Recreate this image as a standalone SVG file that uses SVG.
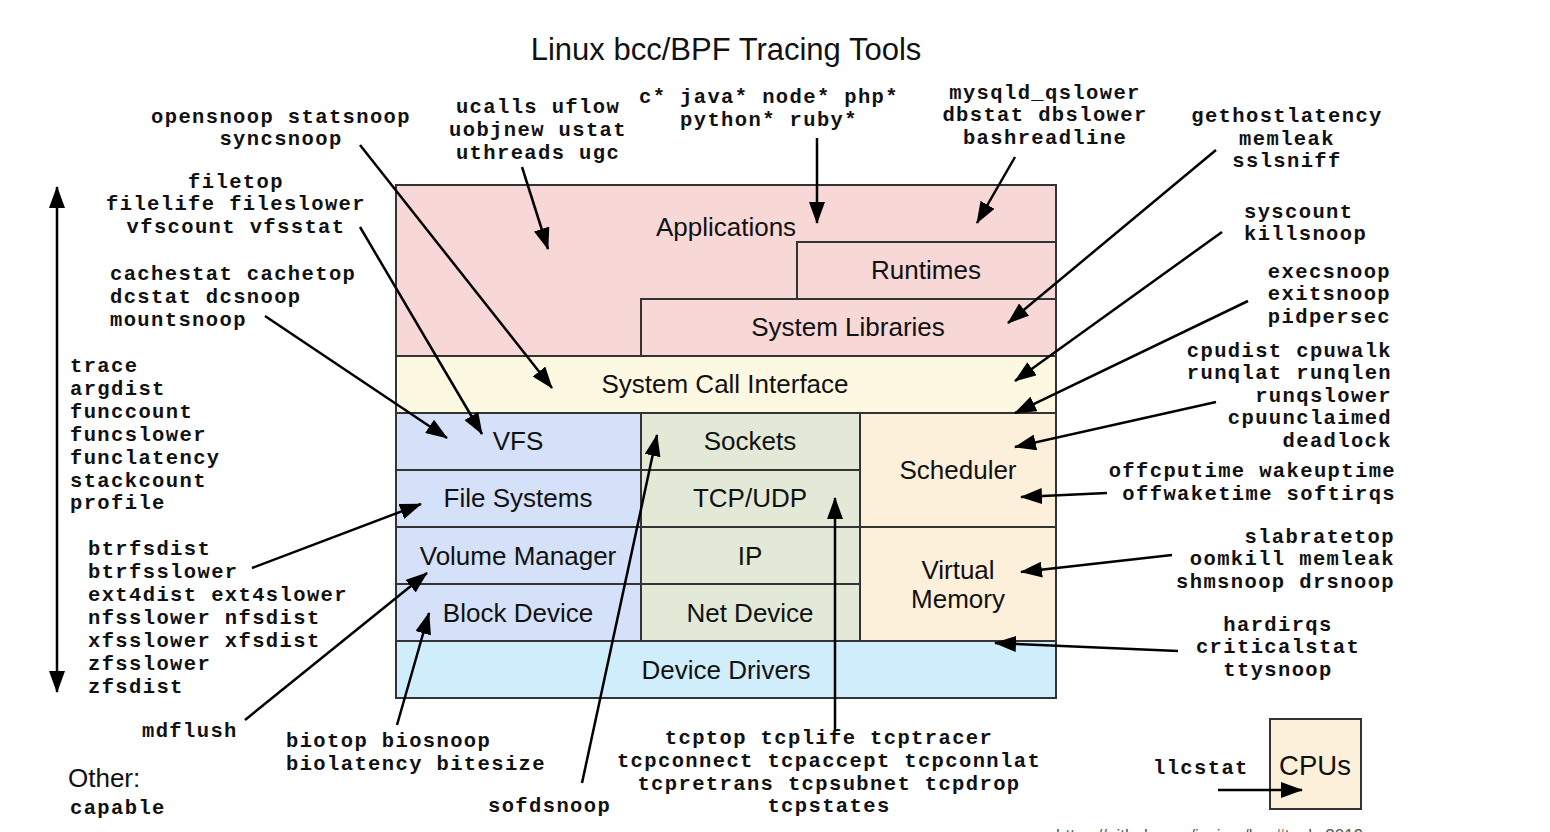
<svg xmlns="http://www.w3.org/2000/svg" width="1550" height="832" viewBox="0 0 1550 832">
<style>
.m{font-family:"Liberation Mono","DejaVu Sans Mono",monospace;font-weight:bold;font-size:20.5px;letter-spacing:1.38px;fill:#111}
.s{font-family:"Liberation Sans",Arial,sans-serif;font-size:26px;fill:#111}
.b{stroke:#333;stroke-width:2}
.c{text-anchor:middle}
.r{text-anchor:end}
.ln{stroke:#000;stroke-width:2.5;fill:none;marker-end:url(#ah)}
</style>
<defs>
<marker id="ah" viewBox="0 0 22 16" refX="21" refY="8" markerWidth="22" markerHeight="16" markerUnits="userSpaceOnUse" orient="auto-start-reverse"><path d="M0,0 L22,8 L0,16 z" fill="#000"/></marker>
</defs>
<rect width="1550" height="832" fill="#fff"/>
<text class="s c" x="726" y="60" style="font-size:31px">Linux bcc/BPF Tracing Tools</text>

<g id="applications"><rect class="b" x="396" y="185" width="660" height="171" fill="#f8d7d7"/><text class="s c" x="726" y="236">Applications</text></g>
<g id="runtimes"><rect class="b" x="797" y="242" width="259" height="57" fill="#f8d7d7"/><text class="s c" x="926" y="279">Runtimes</text></g>
<g id="system-libraries"><rect class="b" x="641" y="299" width="415" height="57" fill="#f8d7d7"/><text class="s c" x="848" y="336">System Libraries</text></g>
<g id="syscall"><rect class="b" x="396" y="356" width="660" height="57" fill="#fdf8e1"/><text class="s c" x="725" y="393">System Call Interface</text></g>
<g id="vfs"><rect class="b" x="396" y="413" width="245" height="57" fill="#d5e1f8"/><text class="s c" x="518" y="450">VFS</text></g>
<g id="file-systems"><rect class="b" x="396" y="470" width="245" height="57" fill="#d5e1f8"/><text class="s c" x="518" y="507">File Systems</text></g>
<g id="volume-manager"><rect class="b" x="396" y="527" width="245" height="57" fill="#d5e1f8"/><text class="s c" x="518" y="565">Volume Manager</text></g>
<g id="block-device"><rect class="b" x="396" y="584" width="245" height="57" fill="#d5e1f8"/><text class="s c" x="518" y="622">Block Device</text></g>
<g id="sockets"><rect class="b" x="641" y="413" width="219" height="57" fill="#e2ead7"/><text class="s c" x="750" y="450">Sockets</text></g>
<g id="tcp-udp"><rect class="b" x="641" y="470" width="219" height="57" fill="#e2ead7"/><text class="s c" x="750" y="507">TCP/UDP</text></g>
<g id="ip"><rect class="b" x="641" y="527" width="219" height="57" fill="#e2ead7"/><text class="s c" x="750" y="565">IP</text></g>
<g id="net-device"><rect class="b" x="641" y="584" width="219" height="57" fill="#e2ead7"/><text class="s c" x="750" y="622">Net Device</text></g>
<g id="scheduler"><rect class="b" x="860" y="413" width="196" height="114" fill="#fdf0da"/><text class="s c" x="958" y="479">Scheduler</text></g>
<g id="virtual-memory"><rect class="b" x="860" y="527" width="196" height="114" fill="#fdf0da"/><text class="s c" x="958" y="579">Virtual</text><text class="s c" x="958" y="608">Memory</text></g>
<g id="device-drivers"><rect class="b" x="396" y="641" width="660" height="57" fill="#d0edfb"/><text class="s c" x="726" y="679">Device Drivers</text></g>
<g id="cpus"><rect class="b" x="1270" y="719" width="91" height="90" fill="#fdf0da"/><text class="s c" x="1315" y="775" style="font-size:27.5px">CPUs</text></g>

<g id="connectors">
<line class="ln" x1="360" y1="145" x2="552" y2="388"/>
<line class="ln" x1="522" y1="167" x2="548" y2="249"/>
<line class="ln" x1="817" y1="138" x2="817" y2="223"/>
<line class="ln" x1="1015" y1="157" x2="977" y2="223"/>
<line class="ln" x1="1216" y1="150" x2="1008" y2="323"/>
<line class="ln" x1="1222" y1="232" x2="1015" y2="381"/>
<line class="ln" x1="1248" y1="301" x2="1015" y2="413"/>
<line class="ln" x1="1216" y1="402" x2="1015" y2="447"/>
<line class="ln" x1="1107" y1="493" x2="1021" y2="497"/>
<line class="ln" x1="1172" y1="555" x2="1021" y2="572"/>
<line class="ln" x1="1178" y1="651" x2="995" y2="643"/>
<line class="ln" x1="360" y1="227" x2="482" y2="434"/>
<line class="ln" x1="265" y1="316" x2="447" y2="438"/>
<line class="ln" x1="252" y1="568" x2="421" y2="504"/>
<line class="ln" x1="245" y1="720" x2="427" y2="573"/>
<line class="ln" x1="397" y1="725" x2="429" y2="613"/>
<line class="ln" x1="582" y1="783" x2="657" y2="435"/>
<line class="ln" x1="835" y1="730" x2="835" y2="498"/>
<line class="ln" x1="1218" y1="790" x2="1302" y2="790"/>
<line class="ln" x1="57" y1="187" x2="57" y2="692" style="marker-start:url(#ah)"/>
</g>

<g id="labels">
<text class="m c" x="281" y="123">opensnoop statsnoop</text>
<text class="m c" x="281" y="145">syncsnoop</text>
<text class="m c" x="538" y="113">ucalls uflow</text>
<text class="m c" x="538" y="136">uobjnew ustat</text>
<text class="m c" x="538" y="159">uthreads ugc</text>
<text class="m c" x="769" y="103">c* java* node* php*</text>
<text class="m c" x="769" y="126">python* ruby*</text>
<text class="m c" x="1045" y="99">mysqld_qslower</text>
<text class="m c" x="1045" y="121">dbstat dbslower</text>
<text class="m c" x="1045" y="144">bashreadline</text>
<text class="m c" x="1287" y="122">gethostlatency</text>
<text class="m c" x="1287" y="145">memleak</text>
<text class="m c" x="1287" y="167">sslsniff</text>
<text class="m" x="1244" y="218">syscount</text>
<text class="m" x="1244" y="240">killsnoop</text>
<text class="m r" x="1391" y="278">execsnoop</text>
<text class="m r" x="1391" y="300">exitsnoop</text>
<text class="m r" x="1391" y="323">pidpersec</text>
<text class="m r" x="1392" y="357">cpudist cpuwalk</text>
<text class="m r" x="1392" y="379">runqlat runqlen</text>
<text class="m r" x="1392" y="402">runqslower</text>
<text class="m r" x="1392" y="424">cpuunclaimed</text>
<text class="m r" x="1392" y="447">deadlock</text>
<text class="m r" x="1396" y="477">offcputime wakeuptime</text>
<text class="m r" x="1396" y="500">offwaketime softirqs</text>
<text class="m r" x="1395" y="543">slabratetop</text>
<text class="m r" x="1395" y="565">oomkill memleak</text>
<text class="m r" x="1395" y="588">shmsnoop drsnoop</text>
<text class="m c" x="1278" y="631">hardirqs</text>
<text class="m c" x="1278" y="653">criticalstat</text>
<text class="m c" x="1278" y="676">ttysnoop</text>
<text class="m c" x="236" y="188">filetop</text>
<text class="m c" x="236" y="210">filelife fileslower</text>
<text class="m c" x="236" y="233">vfscount vfsstat</text>
<text class="m" x="110" y="280">cachestat cachetop</text>
<text class="m" x="110" y="303">dcstat dcsnoop</text>
<text class="m" x="110" y="326">mountsnoop</text>
<text class="m" x="70" y="372">trace</text>
<text class="m" x="70" y="395">argdist</text>
<text class="m" x="70" y="418">funccount</text>
<text class="m" x="70" y="441">funcslower</text>
<text class="m" x="70" y="464">funclatency</text>
<text class="m" x="70" y="487">stackcount</text>
<text class="m" x="70" y="509">profile</text>
<text class="m" x="88" y="555">btrfsdist</text>
<text class="m" x="88" y="578">btrfsslower</text>
<text class="m" x="88" y="601">ext4dist ext4slower</text>
<text class="m" x="88" y="624">nfsslower nfsdist</text>
<text class="m" x="88" y="647">xfsslower xfsdist</text>
<text class="m" x="88" y="670">zfsslower</text>
<text class="m" x="88" y="693">zfsdist</text>
<text class="m" x="142" y="737">mdflush</text>
<text class="m" x="286" y="747">biotop biosnoop</text>
<text class="m" x="286" y="770">biolatency bitesize</text>
<text class="m" x="488" y="812">sofdsnoop</text>
<text class="m c" x="829" y="744">tcptop tcplife tcptracer</text>
<text class="m c" x="829" y="767">tcpconnect tcpaccept tcpconnlat</text>
<text class="m c" x="829" y="790">tcpretrans tcpsubnet tcpdrop</text>
<text class="m c" x="829" y="812">tcpstates</text>
<text class="s" x="68" y="787">Other:</text>
<text class="m" x="70" y="814">capable</text>
<text class="m" x="1153" y="774">llcstat</text>
<text x="1056" y="841" style="font-family:'Liberation Sans',Arial,sans-serif;font-size:17px;fill:#555">https://github.com/iovisor/bcc#tools 2019</text>
</g>
</svg>
